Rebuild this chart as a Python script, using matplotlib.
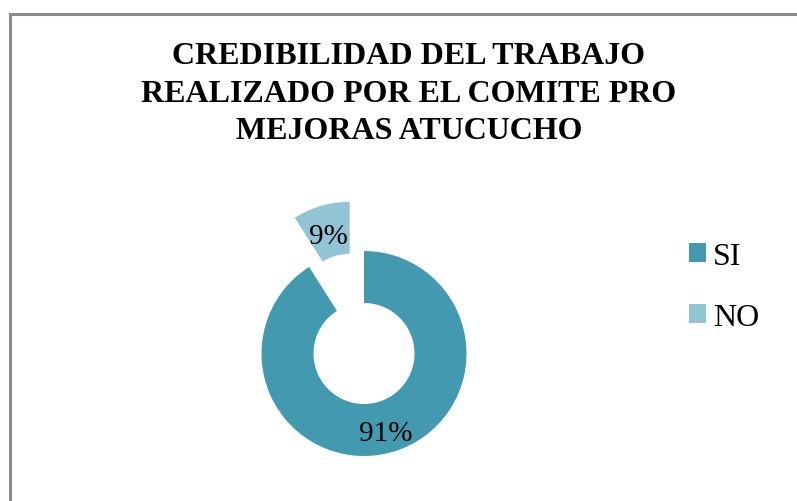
import matplotlib
matplotlib.use('Agg')
import matplotlib.pyplot as plt
from matplotlib.patches import Rectangle

# Datos
categorias = ['SI', 'NO']
porcentajes = [91, 9]
colores = ['#4399B0', '#93C4D6']
titulo = ['CREDIBILIDAD DEL TRABAJO', 'REALIZADO POR EL COMITE PRO', 'MEJORAS ATUCUCHO']

plt.rcParams['font.family'] = ['Liberation Serif', 'DejaVu Serif']

W, H = 797, 502
fig = plt.figure(figsize=(W / 100, H / 100), dpi=100)
ax = fig.add_axes([0, 0, 1, 1])

# Donut (coordenadas en pixeles, y hacia arriba)
radio = 102.5
wedges, texts, autotexts = ax.pie(
    porcentajes, colors=colores, startangle=90, counterclock=False,
    explode=[0, 0.5 * radio], center=(364, H - 354.5), radius=radio,
    autopct='%1.0f%%', pctdistance=0.75,
    wedgeprops=dict(width=52, linewidth=0),
    textprops=dict(fontsize=21, color='black'))

# bajar un poco las etiquetas, como en el original
for t in autotexts:
    t.set_y(t.get_position()[1] - 6)

ax.set_xlim(0, W)
ax.set_ylim(0, H)
ax.set_aspect('equal')
ax.axis('off')

# Marco del grafico
ax.add_patch(Rectangle((10, -20), W + 20, H - 15 + 20, fill=False,
                       edgecolor='#8C8C8C', linewidth=2.2, clip_on=False))

# Titulo
for i, linea in enumerate(titulo):
    ax.text(409, H - (64 + 37.5 * i), linea, ha='center', va='baseline',
            fontsize=23, fontweight='bold', color='black')

# Leyenda
ax.legend(wedges, categorias, loc='upper left', bbox_to_anchor=(689 / W, 1 - 243 / H),
          frameon=False, fontsize=23, handlelength=0.53, handleheight=0.53,
          handletextpad=0.22, labelspacing=1.0, borderaxespad=0, borderpad=0)

plt.savefig('out.png', dpi=100)
